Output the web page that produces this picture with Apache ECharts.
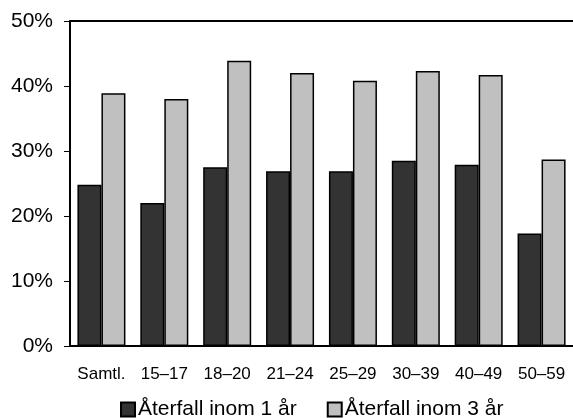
<!DOCTYPE html>
<html>
<head>
<meta charset="utf-8">
<script src="https://cdn.jsdelivr.net/npm/echarts@6/dist/echarts.min.js"></script>
<style>html,body{margin:0;padding:0;background:#fff}#c{width:573px;height:418px}</style>
</head>
<body>
<div id="c"></div>
<script>
const categories = ['Samtl.', '15\u201317', '18\u201320', '21\u201324', '25\u201329', '30\u201339', '40\u201349', '50\u201359'];
const within1 = [24.8, 22.0, 27.5, 26.9, 26.9, 28.5, 27.9, 17.3];
const within3 = [38.9, 38.0, 43.9, 42.0, 40.8, 42.3, 41.7, 28.7];
const seriesNames = ['\u00C5terfall inom 1 \u00E5r', '\u00C5terfall inom 3 \u00E5r'];
const yTicks = [0, 10, 20, 30, 40, 50];

const font = 'Liberation Sans, Arial, sans-serif';
const chart = echarts.init(document.getElementById('c'), null, {renderer: 'canvas'});
chart.setOption({
  animation: false,
  backgroundColor: '#fff',
  grid: {left: 70, right: -2, top: 21, bottom: 72, containLabel: false},
  legend: {
    data: seriesNames,
    left: 115, top: 394,
    itemWidth: 14, itemHeight: 14, itemGap: 30,
    textStyle: {fontFamily: font, fontSize: 21, color: '#000', padding: [0,0,0,-2]},
    icon: 'rect'
  },
  xAxis: [{
    type: 'category', data: categories,
    axisLine: {show: true, lineStyle: {color: '#000', width: 2}},
    axisTick: {show: false},
    axisLabel: {fontFamily: font, fontSize: 17, color: '#000', margin: 20}
  }, {
    type: 'category', data: categories, position: 'top',
    axisLine: {show: true, lineStyle: {color: '#000', width: 2}},
    axisTick: {show: false}, axisLabel: {show: false}
  }],
  yAxis: {
    type: 'value', min: 0, max: 50, interval: 10,
    axisLine: {show: true, lineStyle: {color: '#000', width: 2}},
    axisTick: {show: true, length: 6, lineStyle: {color: '#000', width: 1}},
    splitLine: {show: false},
    axisLabel: {fontFamily: font, fontSize: 21, color: '#000', margin: 17,
      formatter: v => yTicks.includes(v) ? v + '%' : ''}
  },
  series: [{
    name: seriesNames[0], type: 'bar', data: within1, barWidth: 24, barGap: '0%',
    itemStyle: {color: '#333333', borderColor: '#000', borderWidth: 1.5}
  }, {
    name: seriesNames[1], type: 'bar', data: within3, barWidth: 24, barGap: '0%',
    itemStyle: {color: '#c0c0c0', borderColor: '#000', borderWidth: 1.5}
  }]
});
</script>
</body>
</html>
